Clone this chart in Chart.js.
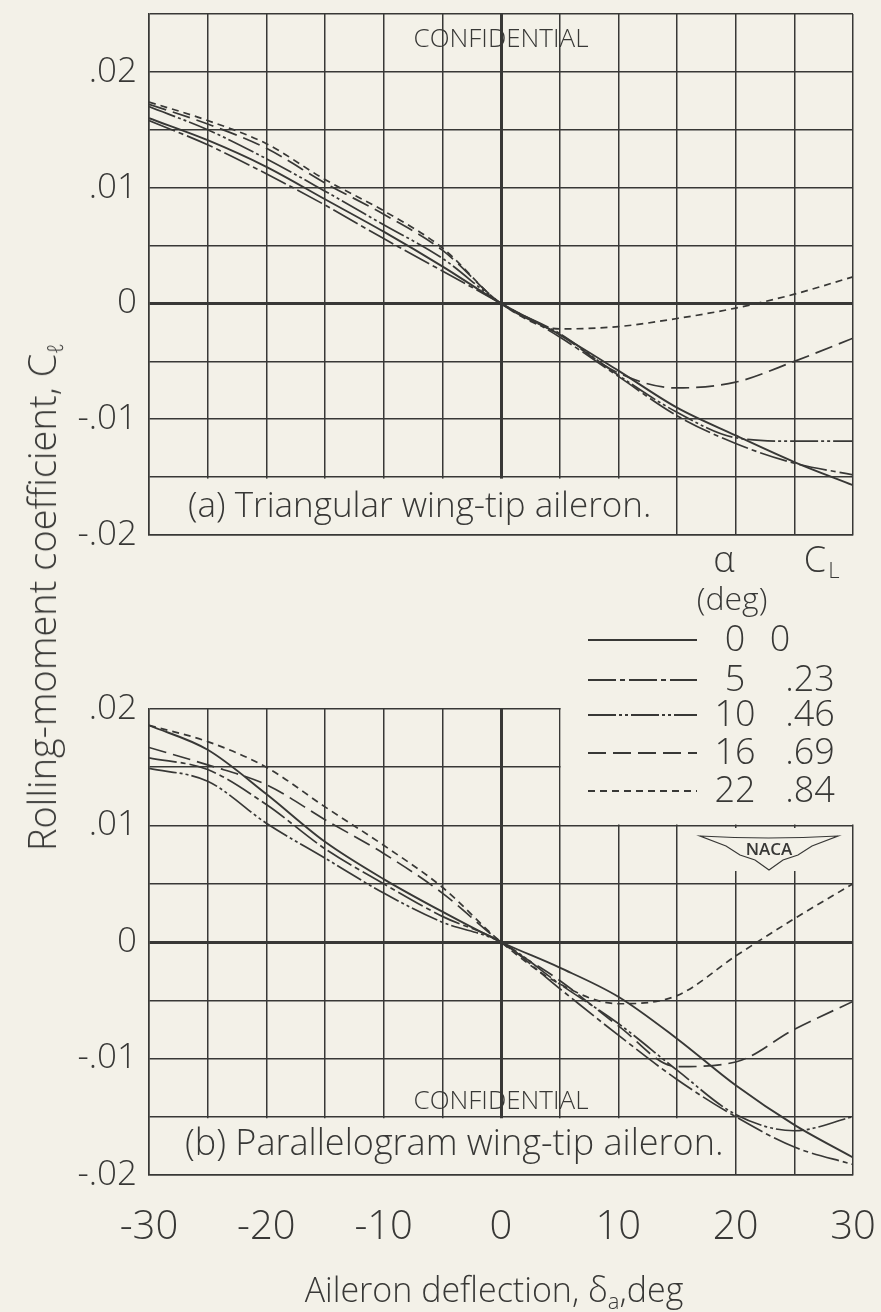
<!DOCTYPE html>
<html>
<head>
<meta charset="utf-8">
<script src="https://cdn.jsdelivr.net/npm/chart.js"></script>
<style>
  body { margin: 0; background: #f3f1e8; }
  #wrap { position: relative; width: 881px; height: 1312px; overflow: hidden; background: #f3f1e8;
          font-family: 'Open Sans', 'DejaVu Sans', sans-serif; color: #383836; }
  canvas { position: absolute; left: 0; }
  #chartA { top: 0; }
  #chartB { top: 540px; }
  .title { position: absolute; font-weight: 300; white-space: nowrap; }
  #yTitle { left: 42px; top: 597px; font-size: 38px; transform: translate(-50%, -50%) rotate(-90deg); }
  #xTitle { left: 494px; top: 1290px; font-size: 34px; transform: translate(-50%, -50%); }
  .title sub { font-size: 22px; vertical-align: -7px; }
</style>
</head>
<body>
<div id="wrap">
  <canvas id="chartA" width="881" height="560"></canvas>
  <canvas id="chartB" width="881" height="772"></canvas>
  <div class="title" id="yTitle">Rolling-moment coefficient, C<sub>ℓ</sub></div>
  <div class="title" id="xTitle">Aileron deflection, δ<sub>a</sub>,deg</div>
</div>
<script>
// --- Data ---
const deflection = [-30, -25, -20, -15, -10, -5, 0, 5, 10, 15, 20, 25, 30];
const alphaDeg = ['0', '5', '10', '16', '22'];
const liftCoef = ['0', '.23', '.46', '.69', '.84'];

// (a) triangular wing-tip aileron
const triA0  = [0.0160, 0.0141, 0.0118, 0.0090, 0.0062, 0.0032, 0, -0.0027, -0.0058, -0.0090, -0.0114, -0.0137, -0.0157];
const triA5  = [0.0158, 0.0137, 0.0112, 0.0085, 0.0056, 0.0028, 0, -0.0029, -0.0063, -0.0097, -0.0121, -0.0138, -0.0148];
const triA10 = [0.0170, 0.0150, 0.0125, 0.0097, 0.0068, 0.0039, 0, -0.0026, -0.0062, -0.0094, -0.0116, -0.0119, -0.0119];
const triA16 = [0.0172, 0.0155, 0.0134, 0.0104, 0.0077, 0.0046, 0, -0.0027, -0.0060, -0.0073, -0.0068, -0.0050, -0.0030];
const triA22 = [0.0174, 0.0158, 0.0138, 0.0107, 0.0080, 0.0048, 0, -0.0022, -0.0020, -0.0013, -0.0004, 0.0008, 0.0023];

// (b) parallelogram wing-tip aileron
const parA0  = [0.0186, 0.0165, 0.0127, 0.0086, 0.0054, 0.0026, 0, -0.0022, -0.0047, -0.0083, -0.0123, -0.0157, -0.0185];
const parA5  = [0.0158, 0.0148, 0.0118, 0.0080, 0.0050, 0.0022, 0, -0.0040, -0.0080, -0.0118, -0.0150, -0.0176, -0.0191];
const parA10 = [0.0149, 0.0138, 0.0102, 0.0072, 0.0042, 0.0017, 0, -0.0036, -0.0070, -0.0110, -0.0148, -0.0162, -0.0150];
const parA16 = [0.0167, 0.0152, 0.0135, 0.0105, 0.0076, 0.0042, 0, -0.0033, -0.0072, -0.0107, -0.0103, -0.0075, -0.0051];
const parA22 = [0.0186, 0.0172, 0.0150, 0.0116, 0.0083, 0.0047, 0, -0.0036, -0.0053, -0.0046, -0.0012, 0.0020, 0.0050];

const yTickLabels = { '20': '.02', '10': '.01', '0': '0', '-10': '-.01', '-20': '-.02' };

// --- Styles ---
const BG = '#f3f1e8';
const INK = '#383836';
const FONT = "'Open Sans', 'DejaVu Sans', sans-serif";
const dashes = [[], [28, 4, 5, 4], [28, 3, 3, 3, 3, 3], [18, 7], [7, 5]];
const widths = [1.9, 1.7, 1.7, 1.7, 1.7];

Chart.defaults.font.family = FONT;
Chart.defaults.color = INK;

function toSeries(vals) {
    return vals.map((v, i) => ({ x: deflection[i], y: v }));
}

function makeDatasets(list) {
    return list.map((vals, i) => ({
        label: 'α = ' + alphaDeg[i],
        data: toSeries(vals),
        borderColor: INK,
        borderWidth: widths[i],
        borderDash: dashes[i],
        pointRadius: 0,
        fill: false,
        cubicInterpolationMode: 'monotone'
    }));
}

const gridWidth = (c) => (c.tick && Math.abs(c.tick.value) < 1e-9) ? 3 : 1.5;

function makeOptions(yMax, showX, padding, xHeight) {
    return {
        responsive: false,
        animation: false,
        devicePixelRatio: 1,
        layout: { padding: padding },
        plugins: { legend: { display: false }, tooltip: { enabled: false } },
        scales: {
            x: {
                type: 'linear', min: -30, max: 30,
                ticks: {
                    display: showX, stepSize: 5, padding: 29,
                    maxRotation: 0, minRotation: 0, autoSkip: false,
                    font: { size: 40, weight: '300' },
                    callback: v => (v % 10 === 0 ? String(v) : '')
                },
                grid: { color: INK, lineWidth: gridWidth, drawTicks: false },
                border: { color: INK, width: 1.5 },
                afterFit: s => { s.height = xHeight; s.paddingLeft = 0; s.paddingRight = 0; }
            },
            y: {
                type: 'linear', min: -0.02, max: yMax,
                ticks: {
                    stepSize: 0.005, padding: 12,
                    font: { size: 35, weight: '300' },
                    callback: v => yTickLabels[String(Math.round(v * 1000))] || ''
                },
                grid: { color: INK, lineWidth: gridWidth, drawTicks: false },
                border: { color: INK, width: 1.5 },
                afterFit: s => { s.width = 149; s.paddingTop = 0; s.paddingBottom = 0; }
            }
        }
    };
}

// --- Chart (a) decorations ---
const decorA = {
    id: 'decorA',
    beforeDatasetsDraw(chart) {
        const { ctx, chartArea: a, scales: { x, y } } = chart;
        const yRow = y.getPixelForValue(-0.015);
        ctx.save();
        ctx.fillStyle = BG;
        ctx.fillRect(a.left + 1, yRow + 1.5, x.getPixelForValue(15) - a.left - 2.5, a.bottom - yRow - 2.5);
        ctx.fillStyle = INK;
        ctx.textBaseline = 'middle';
        ctx.font = '300 35px ' + FONT;
        ctx.fillText('(a) Triangular wing-tip aileron.', 188, 507);
        ctx.textAlign = 'center';
        ctx.font = '300 26px ' + FONT;
        ctx.fillText('CONFIDENTIAL', x.getPixelForValue(0), 40);
        ctx.restore();
    }
};

// --- Chart (b) decorations: cut-out corner, logo, labels, legend ---
const OFF = 540;
const decorB = {
    id: 'decorB',
    beforeDatasetsDraw(chart) {
        const { ctx, chartArea: a, scales: { x, y } } = chart;
        ctx.save();
        ctx.fillStyle = BG;
        // corner with no grid (legend sits there)
        const x5 = x.getPixelForValue(5), y01 = y.getPixelForValue(0.01);
        ctx.fillRect(x5 + 1, a.top - 3, chart.width - x5, y01 - a.top + 2);
        // label box along the bottom row
        const yRow = y.getPixelForValue(-0.015);
        ctx.fillRect(a.left + 1, yRow + 1.5, x.getPixelForValue(20) - a.left - 2.5, a.bottom - yRow - 2.5);
        // logo background
        ctx.fillRect(694, 828 - OFF, 150, 43);

        ctx.fillStyle = INK;
        ctx.textBaseline = 'middle';
        ctx.font = '300 36px ' + FONT;
        ctx.fillText('(b) Parallelogram wing-tip aileron.', 185, 1145 - OFF);
        ctx.textAlign = 'center';
        ctx.font = '300 26px ' + FONT;
        ctx.fillText('CONFIDENTIAL', x.getPixelForValue(0), 1102 - OFF);

        // NACA wings
        ctx.strokeStyle = INK;
        ctx.lineWidth = 1.2;
        ctx.beginPath();
        ctx.moveTo(700, 836 - OFF);
        ctx.quadraticCurveTo(768, 840 - OFF, 838, 836 - OFF);
        ctx.lineTo(812, 846 - OFF);
        ctx.lineTo(798, 855 - OFF);
        ctx.lineTo(783, 860 - OFF);
        ctx.lineTo(769, 870 - OFF);
        ctx.lineTo(755, 860 - OFF);
        ctx.lineTo(740, 855 - OFF);
        ctx.lineTo(726, 846 - OFF);
        ctx.closePath();
        ctx.stroke();
        ctx.font = '600 17px ' + FONT;
        ctx.fillText('NACA', 769, 850 - OFF);
        ctx.restore();
    },
    afterDraw(chart) {
        const ctx = chart.ctx;
        ctx.save();
        ctx.fillStyle = INK;
        ctx.strokeStyle = INK;
        ctx.textBaseline = 'middle';
        ctx.textAlign = 'center';
        ctx.font = '300 36px ' + FONT;
        ctx.fillText('α', 724, 562 - OFF);
        ctx.fillText('C', 815, 562 - OFF);
        ctx.font = '300 22px ' + FONT;
        ctx.fillText('L', 834, 572 - OFF);
        ctx.font = '300 32px ' + FONT;
        ctx.fillText('(deg)', 732, 601 - OFF);

        const rowY = [640, 680, 715, 753, 791];
        ctx.font = '300 36px ' + FONT;
        alphaDeg.forEach((a, i) => {
            const yy = rowY[i] - OFF;
            ctx.beginPath();
            ctx.setLineDash(dashes[i]);
            ctx.lineWidth = 2;
            ctx.moveTo(588, yy);
            ctx.lineTo(697, yy);
            ctx.stroke();
            ctx.fillText(a, 735, yy + 1);
            ctx.fillText(liftCoef[i], i === 0 ? 780 : 810, yy + 1);
        });
        ctx.restore();
    }
};

// --- Build charts ---
new Chart(document.getElementById('chartA').getContext('2d'), {
    type: 'line',
    data: { datasets: makeDatasets([triA0, triA5, triA10, triA16, triA22]) },
    options: makeOptions(0.025, false, { top: 14, right: 28, bottom: 25, left: 0 }, 0),
    plugins: [decorA]
});

new Chart(document.getElementById('chartB').getContext('2d'), {
    type: 'line',
    data: { datasets: makeDatasets([parA0, parA5, parA10, parA16, parA22]) },
    options: makeOptions(0.02, true, { top: 709 - OFF, right: 28, bottom: 0, left: 0 }, 772 - (1175 - OFF)),
    plugins: [decorB]
});
</script>
</body>
</html>
